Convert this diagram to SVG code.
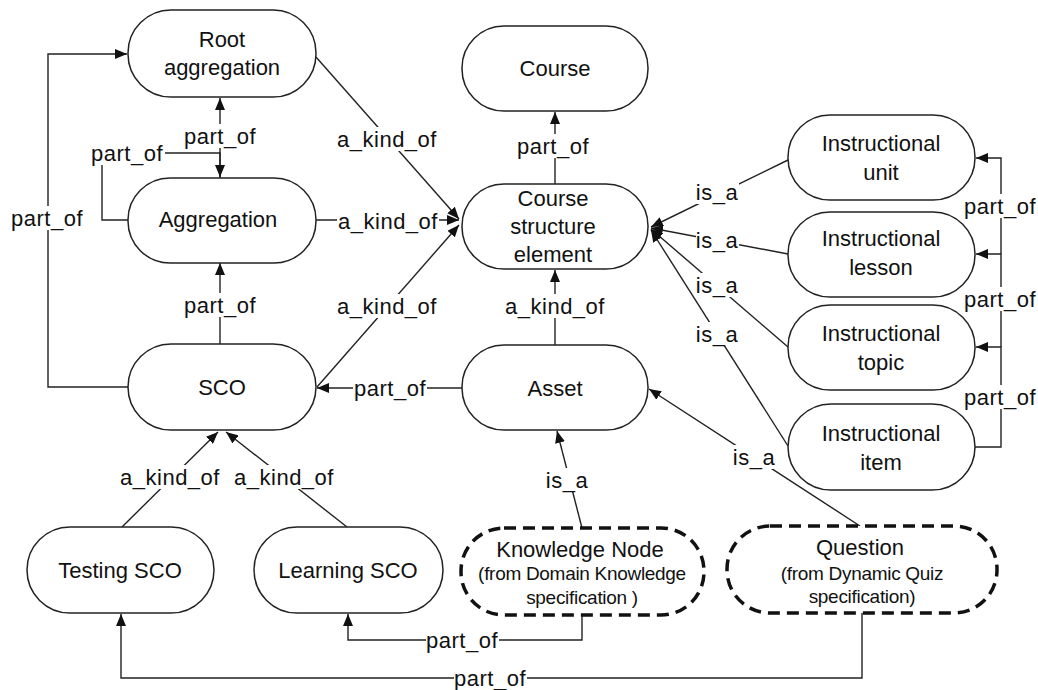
<svg xmlns="http://www.w3.org/2000/svg" width="1038" height="690" viewBox="0 0 1038 690">
  <style>
    .node { fill: #fff; stroke: #222; stroke-width: 1.5; }
    .ext { fill: #fff; stroke: #111; stroke-width: 3.5; stroke-dasharray: 12 7; }
    .name { font-family: "Liberation Sans", Arial, sans-serif; font-size: 22px; fill: #111; text-anchor: middle; }
    .sub { font-family: "Liberation Sans", Arial, sans-serif; font-size: 19px; fill: #111; text-anchor: middle; letter-spacing: -0.3px; }
    .edge { fill: none; stroke: #222; stroke-width: 1.4; }
    .arr { marker-end: url(#head); }
    .bg { fill: #fff; }
    .lab { font-family: "Liberation Sans", Arial, sans-serif; font-size: 22px; fill: #111; text-anchor: middle; letter-spacing: 0.5px; }
  </style>
  <defs>
    <marker id="head" viewBox="0 0 12 10" refX="12" refY="5" markerWidth="12" markerHeight="10" markerUnits="userSpaceOnUse" orient="auto">
      <path d="M0,0 L12,5 L0,10 z" fill="#111"/>
    </marker>
  </defs>
  <rect width="1038" height="690" fill="#fff"/>

  <!-- connectors -->
  <g id="connectors">
    <path class="edge arr" d="M128,387 H48 V54 H127"/>
    <path class="edge arr" d="M220,178 V98"/>
    <path class="edge arr" d="M128,220 H102 V153 H220 V177"/>
    <path class="edge arr" d="M220,344 V263"/>
    <path class="edge arr" d="M316,57 L459,219"/>
    <path class="edge arr" d="M316,220 H459"/>
    <path class="edge arr" d="M317,387 L459,225"/>
    <path class="edge arr" d="M462,388 H317"/>
    <path class="edge arr" d="M555,184 V112"/>
    <path class="edge arr" d="M555,345 V270"/>
    <path class="edge arr" d="M788,160 L651,227"/>
    <path class="edge arr" d="M788,254 L651,228"/>
    <path class="edge arr" d="M788,347 L651,229"/>
    <path class="edge arr" d="M788,446 L651,230"/>
    <path class="edge arr" d="M975,447 H1001 V347 H976"/>
    <path class="edge arr" d="M1001,347 V254 H976"/>
    <path class="edge arr" d="M1001,254 V158 H976"/>
    <path class="edge arr" d="M860,526 L649,389"/>
    <path class="edge arr" d="M582,528 L557,431"/>
    <path class="edge arr" d="M582,615 V640 H348 V614"/>
    <path class="edge arr" d="M862,613 V678 H121 V614"/>
    <path class="edge arr" d="M122,527 L218,432"/>
    <path class="edge arr" d="M347,527 L226,432"/>

    <!-- connector labels -->
    <rect class="bg" x="11" y="206" width="73" height="24"/>
    <text class="lab" x="47" y="226">part_of</text>
    <rect class="bg" x="183" y="124" width="74" height="24"/>
    <text class="lab" x="220" y="144">part_of</text>
    <rect class="bg" x="91" y="141" width="74" height="24"/>
    <text class="lab" x="127" y="161">part_of</text>
    <rect class="bg" x="183" y="293" width="74" height="24"/>
    <text class="lab" x="220" y="313">part_of</text>
    <rect class="bg" x="336" y="127" width="102" height="24"/>
    <text class="lab" x="387" y="147">a_kind_of</text>
    <rect class="bg" x="337" y="209" width="102" height="24"/>
    <text class="lab" x="388" y="229">a_kind_of</text>
    <rect class="bg" x="336" y="294" width="102" height="24"/>
    <text class="lab" x="387" y="314">a_kind_of</text>
    <rect class="bg" x="353" y="376" width="74" height="24"/>
    <text class="lab" x="390" y="396">part_of</text>
    <rect class="bg" x="516" y="134" width="74" height="24"/>
    <text class="lab" x="553" y="154">part_of</text>
    <rect class="bg" x="504" y="294" width="102" height="24"/>
    <text class="lab" x="555" y="314">a_kind_of</text>
    <rect class="bg" x="696" y="180" width="43" height="24"/>
    <text class="lab" x="717" y="200">is_a</text>
    <rect class="bg" x="696" y="228" width="43" height="24"/>
    <text class="lab" x="717" y="248">is_a</text>
    <rect class="bg" x="696" y="273" width="43" height="24"/>
    <text class="lab" x="717" y="293">is_a</text>
    <rect class="bg" x="696" y="322" width="43" height="24"/>
    <text class="lab" x="717" y="342">is_a</text>
    <rect class="bg" x="964" y="194" width="72" height="24"/>
    <text class="lab" x="1000" y="214">part_of</text>
    <rect class="bg" x="964" y="287" width="72" height="24"/>
    <text class="lab" x="1000" y="307">part_of</text>
    <rect class="bg" x="964" y="385" width="72" height="24"/>
    <text class="lab" x="1000" y="405">part_of</text>
    <rect class="bg" x="733" y="445" width="43" height="24"/>
    <text class="lab" x="754" y="465">is_a</text>
    <rect class="bg" x="546" y="468" width="43" height="24"/>
    <text class="lab" x="567" y="488">is_a</text>
    <rect class="bg" x="119" y="465" width="102" height="24"/>
    <text class="lab" x="170" y="485">a_kind_of</text>
    <rect class="bg" x="233" y="465" width="102" height="24"/>
    <text class="lab" x="284" y="485">a_kind_of</text>
    <rect class="bg" x="426" y="628" width="73" height="24"/>
    <text class="lab" x="462" y="648">part_of</text>
    <rect class="bg" x="454" y="666" width="73" height="24"/>
    <text class="lab" x="490" y="686">part_of</text>
  </g>

  <!-- nodes -->
  <g id="root-aggregation">
    <rect class="node" x="128" y="10" width="188" height="87" rx="43" ry="43"/>
    <text class="name" x="222" y="47">Root</text>
    <text class="name" x="222" y="75">aggregation</text>
  </g>
  <g id="aggregation">
    <rect class="node" x="128" y="178" width="188" height="85" rx="42" ry="42"/>
    <text class="name" x="218" y="227">Aggregation</text>
  </g>
  <g id="sco">
    <rect class="node" x="128" y="344" width="188" height="86" rx="43" ry="43"/>
    <text class="name" x="222" y="395">SCO</text>
  </g>
  <g id="course">
    <rect class="node" x="462" y="26" width="186" height="85" rx="42" ry="42"/>
    <text class="name" x="555" y="76">Course</text>
  </g>
  <g id="course-structure-element">
    <rect class="node" x="462" y="184" width="186" height="85" rx="42" ry="42"/>
    <text class="name" x="553" y="206">Course</text>
    <text class="name" x="553" y="234">structure</text>
    <text class="name" x="553" y="262">element</text>
  </g>
  <g id="asset">
    <rect class="node" x="462" y="345" width="186" height="85" rx="42" ry="42"/>
    <text class="name" x="555" y="396">Asset</text>
  </g>
  <g id="instructional-unit">
    <rect class="node" x="788" y="115" width="187" height="85" rx="42" ry="42"/>
    <text class="name" x="881" y="151">Instructional</text>
    <text class="name" x="881" y="180">unit</text>
  </g>
  <g id="instructional-lesson">
    <rect class="node" x="788" y="212" width="187" height="85" rx="42" ry="42"/>
    <text class="name" x="881" y="246">Instructional</text>
    <text class="name" x="881" y="275">lesson</text>
  </g>
  <g id="instructional-topic">
    <rect class="node" x="788" y="305" width="187" height="85" rx="42" ry="42"/>
    <text class="name" x="881" y="341">Instructional</text>
    <text class="name" x="881" y="370">topic</text>
  </g>
  <g id="instructional-item">
    <rect class="node" x="788" y="404" width="187" height="86" rx="43" ry="43"/>
    <text class="name" x="881" y="441">Instructional</text>
    <text class="name" x="881" y="470">item</text>
  </g>
  <g id="testing-sco">
    <rect class="node" x="27" y="527" width="187" height="86" rx="43" ry="43"/>
    <text class="name" x="120" y="578">Testing SCO</text>
  </g>
  <g id="learning-sco">
    <rect class="node" x="254" y="527" width="189" height="86" rx="43" ry="43"/>
    <text class="name" x="348" y="578">Learning SCO</text>
  </g>
  <g id="knowledge-node">
    <rect class="ext" x="461" y="528" width="243" height="87" rx="43" ry="43"/>
    <text class="name" x="580" y="557">Knowledge Node</text>
    <text class="sub" x="582" y="580">(from Domain Knowledge</text>
    <text class="sub" x="582" y="604">specification )</text>
  </g>
  <g id="question">
    <rect class="ext" x="727" y="526" width="270" height="87" rx="43" ry="43"/>
    <text class="name" x="860" y="555">Question</text>
    <text class="sub" x="862" y="580">(from Dynamic Quiz</text>
    <text class="sub" x="862" y="603">specification)</text>
  </g>
</svg>
